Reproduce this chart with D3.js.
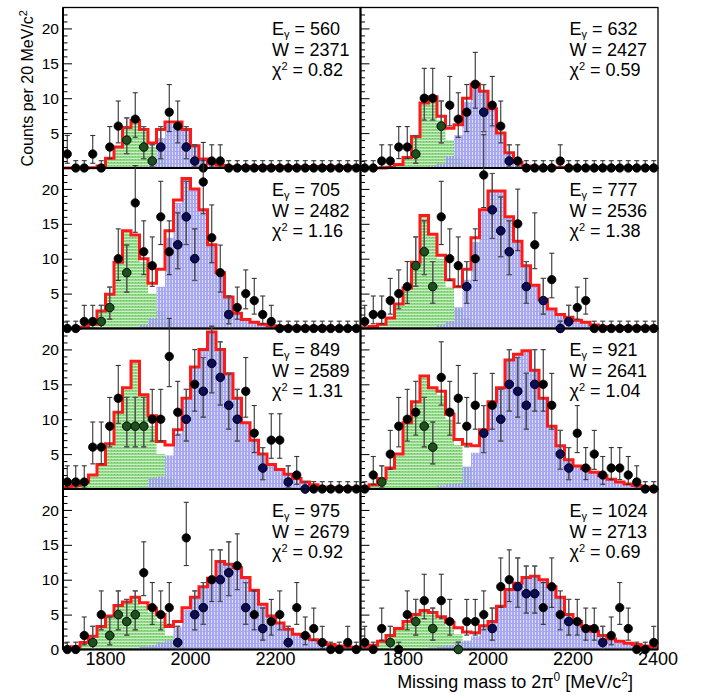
<!DOCTYPE html>
<html><head><meta charset="utf-8">
<script src="https://cdn.jsdelivr.net/npm/d3@7"></script>
<style>body{margin:0;background:#fff}svg{display:block}text{font-family:"Liberation Sans",Arial,Helvetica,sans-serif}</style>
</head><body><svg id="c" width="702" height="695"></svg>
<script>
// ---------- data ----------
const massCenters = [1710,1730,1750,1770,1790,1810,1830,1850,1870,1890,1910,1930,1950,1970,1990,2010,2030,2050,2070,2090,2110,2130,2150,2170,2190,2210,2230,2250,2270,2290,2310,2330,2350,2370,2390];
const eGamma = [560,632,705,777,849,921,975,1024];
const wValues = [2371,2427,2482,2536,2589,2641,2679,2713];
const chi2Values = ["0.82","0.59","1.16","1.38","1.31","1.04","0.92","0.69"];
const yTickLabels = [5,10,15,20];
const xTickLabels = [1800,2000,2200,2400];

const data1 = [2,0,0,2,0,3,6,4,7,3,1,3,8,6,3,1,0,1,1,0,0,0,0,0,0,0,0,0,0,0,0,0,0,0,0];
const green1 = [0,0,0,0.05,0.3,1.4,3.0,5.8,6.8,5.3,3.0,1.2,0.3,0.1,0,0,0,0,0,0,0,0,0,0,0,0,0,0,0,0,0,0,0,0,0];
const blue1 = [0,0,0,0,0,0,0,0,0,0.2,0.6,4.3,6.3,6.5,5.5,3.2,1.3,0.6,0.4,0.2,0.2,0.2,0.2,0.2,0.2,0.2,0.2,0.2,0.2,0.2,0.2,0.2,0.2,0.2,0.2];
const gPts1 = [[1850,4],[1890,3],[1910,1]];
const bPts1 = [[1930,3],[1990,3],[2010,1]];

const data2 = [0,0,1,1,3,3,2,10,10,6,9,7,8,12,8,9,6,1,1,0,0,0,0,1,0,0,0,0,0,0,0,0,0,0,0];
const green2 = [0,0,0,0.1,0.5,1.5,4.5,9.3,9.9,6.8,4.0,1.5,0.5,0.2,0,0,0,0,0,0,0,0,0,0,0,0,0,0,0,0,0,0,0,0,0];
const blue2 = [0,0,0,0,0,0,0,0,0.3,0.6,1.7,4.7,9.5,11.8,11.0,8.5,5.0,2.2,0.8,0.3,0.1,0.1,0.1,0.1,0.1,0.1,0.1,0.1,0.1,0.1,0.1,0.1,0.1,0.1,0.1];
const gPts2 = [[1830,2],[1890,6]];
const bPts2 = [[1990,8],[2050,1]];

const data3 = [0,0,1,1,1,3,10,8,18,11,9,16,11,12,16,10,21,13,8,2,3,5,4,2,1,0,0,0,0,0,0,0,0,0,0];
const green3 = [0,0,0.2,0.6,2.5,4.9,9.5,14.0,13.2,9.5,5.0,2.5,1.0,0.4,0.1,0,0,0,0,0,0,0,0,0,0,0,0,0,0,0,0,0,0,0,0];
const blue3 = [0,0,0,0,0,0,0,0,0.2,0.5,1.5,6.0,13,18,21.4,20,17,12,8,4.5,2.2,1.3,0.9,0.6,0.4,0.3,0.2,0.2,0.2,0.2,0.2,0.1,0.1,0.1,0.1];
const gPts3 = [[1790,1],[1810,3],[1850,8]];
const bPts3 = [[1970,12],[1990,16],[2010,10],[2090,2]];

const data4 = [1,2,2,4,5,6,9,11,6,16,10,9,6,10,22,17,14,11,15,6,12,4,7,0,1,3,4,0,0,0,0,0,0,0,0];
const green4 = [0.1,0.3,0.6,1.5,3.5,5.8,9.5,16.2,13.3,10,6,3,1.5,0.6,0.2,0,0,0,0,0,0,0,0,0,0,0,0,0,0,0,0,0,0,0,0];
const blue4 = [0,0,0,0,0,0,0,0,0.2,0.5,1,3,7,12.4,16.8,19.7,19.7,16,12.5,9,6.2,4.2,2.8,2.0,1.6,1.2,0.9,0.5,0.3,0.2,0.2,0.2,0.2,0.2,0.2];
const gPts4 = [[1830,9],[1850,11],[1870,6]];
const bPts4 = [[1950,6],[2010,17],[2030,14],[2050,11],[2090,6],[2130,4],[2170,0],[2190,1]];

const data5 = [1,1,1,6,6,9,13,9,9,9,10,10,19,11,10,15,14,18,16,12,10,14,8,3,7,7,1,2,0,0,0,0,0,0,0];
const green5 = [0.2,0.5,1.0,2.0,3.5,6.5,11,14.5,18.3,13.3,9.0,5.0,1.5,0.5,0.2,0.1,0,0,0,0,0,0,0,0,0,0,0,0,0,0,0,0,0,0,0];
const blue5 = [0,0,0,0,0,0,0,0,0,0.2,1.5,1.8,4.8,8,12.8,17.4,20,22.5,20,16.5,13,9.5,7,5,3.5,2.8,2.1,1.5,1.0,0.6,0.3,0.2,0.2,0.2,0.2];
const gPts5 = [[1850,9],[1870,9],[1890,9]];
const bPts5 = [[1990,10],[2030,14],[2050,18],[2070,16],[2090,12],[2110,10],[2170,3],[2230,1],[2270,0]];

const data6 = [0,2,1,5,9,10,11,9,6,16,11,13,9,12,8,12,10,15,14,12,15,15,12,5,3,8,3,5,2,3,3,2,1,0,0];
const green6 = [0.3,0.6,1.5,3.0,5.0,9.5,12.5,16.2,14.4,13.5,10,6.3,3.2,1.0,0.4,0.2,0,0,0,0,0,0,0,0,0,0,0,0,0,0,0,0,0,0,0];
const blue6 = [0,0,0,0,0,0,0,0,0.1,0.5,0.7,0.8,3.2,5.2,8.1,12.3,14.5,18.5,19.3,19.8,17,13,9,6.2,4.2,3.3,2.9,2.4,1.9,1.4,1.0,0.7,0.5,0.3,0.2];
const gPts6 = [[1750,1],[1850,9],[1870,6]];
const bPts6 = [[1990,8],[2030,10],[2050,15],[2070,14],[2090,12],[2110,15],[2170,5],[2190,3]];

const data7 = [0,0,2,1,5,2,5,4,5,11,6,5,6,1,16,5,6,10,10,11,12,6,5,3,4,5,1,6,2,3,1,0,0,1,0];
const green7 = [0.1,0.4,1.0,1.9,3.3,4.8,6.3,6.8,7.3,6.3,5.3,4.0,2.0,0.8,0.3,0.1,0,0,0,0,0,0,0,0,0,0,0,0,0,0,0,0,0,0,0];
const blue7 = [0,0,0,0,0,0,0,0,0.2,0.4,0.6,1.0,1.3,3.2,5.7,7.4,9.0,10.2,12.6,12.2,11.7,10.3,8.5,6.5,4.8,3.8,2.9,2.2,1.9,1.4,1.0,0.7,0.5,0.35,0.25];
const gPts7 = [[1770,1],[1810,2],[1830,5],[1850,4],[1870,5]];
const bPts7 = [[1970,1],[2010,5],[2030,6],[2070,10],[2090,11],[2130,6],[2170,3],[2230,1]];

const data8 = [1,0,3,1,0,5,4,7,3,7,4,0,4,4,5,3,9,10,9,8,8,6,9,5,4,4,3,3,1,2,6,3,0,0,1];
const green8 = [0.2,0.6,1.2,2.0,3.0,4.0,5.0,5.5,5.0,4.3,3.3,2.2,1.2,0.5,0.2,0,0,0,0,0,0,0,0,0,0,0,0,0,0,0,0,0,0,0,0];
const blue8 = [0,0,0,0,0,0,0,0.1,0.3,0.4,0.6,0.9,1.3,1.9,3.2,4.0,6.2,8.6,9.5,10.3,10.5,10.0,9.0,7.5,5.0,4.0,3.3,2.6,2.0,1.5,1.2,0.9,0.7,0.5,0.3];
const gPts8 = [[1770,1],[1830,4],[1870,3],[1930,0]];
const bPts8 = [[2010,3],[2070,9],[2090,8],[2110,8],[2190,4],[2270,1]];

const panels = [
  {data:data1, green:green1, blue:blue1, gPts:gPts1, bPts:bPts1},
  {data:data2, green:green2, blue:blue2, gPts:gPts2, bPts:bPts2},
  {data:data3, green:green3, blue:blue3, gPts:gPts3, bPts:bPts3},
  {data:data4, green:green4, blue:blue4, gPts:gPts4, bPts:bPts4},
  {data:data5, green:green5, blue:blue5, gPts:gPts5, bPts:bPts5},
  {data:data6, green:green6, blue:blue6, gPts:gPts6, bPts:bPts6},
  {data:data7, green:green7, blue:blue7, gPts:gPts7, bPts:bPts7},
  {data:data8, green:green8, blue:blue8, gPts:gPts8, bPts:bPts8}
];

// ---------- layout ----------
const colX = [63, 360.5], panelW = 297.5;
const rowTop = [7.5, 168, 328.5, 489], panelH = 160.5;
const BIN = 20;

const svg = d3.select("#c");
const defs = svg.append("defs");
const pg = defs.append("pattern").attr("id","pg").attr("width",3).attr("height",3).attr("patternUnits","userSpaceOnUse");
pg.append("rect").attr("width",3).attr("height",3).attr("fill","#8fd886");
pg.append("rect").attr("y",2).attr("width",3).attr("height",1).attr("fill","#ffffff").attr("opacity",0.55);
pg.append("rect").attr("width",1).attr("height",1).attr("fill","#6cc462");
const pb = defs.append("pattern").attr("id","pb").attr("width",3).attr("height",4).attr("patternUnits","userSpaceOnUse");
pb.append("rect").attr("width",3).attr("height",4).attr("fill","#9898ee");
pb.append("rect").attr("x",1).attr("width",1).attr("height",3).attr("fill","#ffffff").attr("opacity",0.6);

function errUp(n){ return n===0 ? 1.05 : Math.sqrt(n+0.75)+1; }
function errLo(n){ return n===0 ? 0 : Math.sqrt(n-0.25); }

function stepPts(vals){
  const pts = vals.map((v,i)=>[massCenters[i]-BIN/2, v]);
  pts.push([massCenters[massCenters.length-1]+BIN/2, vals[vals.length-1]]);
  return pts;
}

function drawPoints(g, x, y, pts, fill, stroke, barColor, r){
  const grp = g.append("g");
  pts.forEach(([m,n])=>{
    const cx = x(m), y1 = y(n+errUp(n)), y0 = y(n-errLo(n));
    grp.append("line").attr("x1",cx).attr("x2",cx).attr("y1",y0).attr("y2",y1)
      .attr("stroke",barColor).attr("stroke-width",1.1);
    grp.append("line").attr("x1",cx-2.5).attr("x2",cx+2.5).attr("y1",y1).attr("y2",y1)
      .attr("stroke",barColor).attr("stroke-width",1.1);
    if (n>0) grp.append("line").attr("x1",cx-2.5).attr("x2",cx+2.5).attr("y1",y0).attr("y2",y0)
      .attr("stroke",barColor).attr("stroke-width",1.1);
  });
  grp.selectAll("circle.m").data(pts).join("circle").attr("class","m")
    .attr("cx",d=>x(d[0])).attr("cy",d=>y(d[1])).attr("r",r)
    .attr("fill",fill).attr("stroke",stroke).attr("stroke-width",0.8);
}

panels.forEach((p,k)=>{
  const r = Math.floor(k/2), c = k%2;
  const x = d3.scaleLinear().domain([1700,2400]).range([colX[c], colX[c]+panelW]);
  const y = d3.scaleLinear().domain([0,23]).range([rowTop[r]+panelH, rowTop[r]]);
  const g = svg.append("g");

  const area = d3.area().x(d=>x(d[0])).y0(y(0)).y1(d=>y(d[1])).curve(d3.curveStepAfter);
  g.append("path").attr("d", area(stepPts(p.green))).attr("fill","url(#pg)");
  g.append("path").attr("d", area(stepPts(p.blue))).attr("fill","url(#pb)").attr("opacity",0.85);

  const total = p.green.map((v,i)=>v+p.blue[i]);
  const line = d3.line().x(d=>x(d[0])).y(d=>y(d[1])).curve(d3.curveStepAfter);
  g.append("path").attr("d", line(stepPts(total))).attr("fill","none")
    .attr("stroke","#ff1a1a").attr("stroke-width",3).attr("stroke-linejoin","miter");

  // frame
  const x0 = colX[c], x1 = colX[c]+panelW, yT = rowTop[r], yB = rowTop[r]+panelH;
  g.append("rect").attr("x",x0).attr("y",yT).attr("width",panelW).attr("height",panelH)
    .attr("fill","none").attr("stroke","#000").attr("stroke-width",1.3);
  g.append("line").attr("x1",x0).attr("x2",x0).attr("y1",yT).attr("y2",yB).attr("stroke","#000").attr("stroke-width",2);
  g.append("line").attr("x1",x0).attr("x2",x1).attr("y1",yB).attr("y2",yB).attr("stroke","#000").attr("stroke-width",2);

  // y ticks (inside)
  const yAxis = d3.axisRight(y).tickValues(d3.range(1,23)).tickSize(4.5).tickFormat("");
  const ya = g.append("g").attr("transform",`translate(${x0},0)`).call(yAxis);
  ya.select(".domain").remove();
  ya.selectAll(".tick line").attr("stroke","#000").attr("stroke-width",1)
    .attr("x2", d => d%5===0 ? 9 : 4.5);

  if (c===0){
    const labs = r===3 ? [0].concat(yTickLabels) : yTickLabels;
    g.selectAll("text.yl").data(labs).join("text").attr("class","yl")
      .attr("x",x0-4).attr("y",d=>y(d)).attr("dy","0.36em")
      .attr("text-anchor","end").attr("font-size",15.5).text(d=>d);
  }
  if (r===3){
    const xl = c===0 ? xTickLabels.filter(v=>v<2400) : xTickLabels;
    g.selectAll("text.xl").data(xl).join("text").attr("class","xl")
      .attr("x",d=>x(d)).attr("y",665).attr("text-anchor","middle")
      .attr("font-size",18).text(d=>d);
  }

  // data points
  const dpts = p.data.map((v,i)=>[massCenters[i], v]);
  drawPoints(g, x, y, dpts, "#000", "#000", "#333", 4.2);
  drawPoints(g, x, y, p.gPts, "#1f4f1f", "#061a06", "#555", 4.2);
  drawPoints(g, x, y, p.bPts, "#0d0d52", "#000028", "#555", 4.2);

  // labels
  const tx = x0 + 209;
  const t1 = g.append("text").attr("x",tx).attr("y",yT+27.5).attr("font-size",18);
  t1.append("tspan").text("E");
  t1.append("tspan").attr("font-size",11).attr("dy",3).text("γ");
  t1.append("tspan").attr("dy",-3).text(" = " + eGamma[k]);
  g.append("text").attr("x",tx).attr("y",yT+48.5).attr("font-size",18).text("W = " + wValues[k]);
  const t3 = g.append("text").attr("x",tx).attr("y",yT+68.5).attr("font-size",18);
  t3.append("tspan").text("χ");
  t3.append("tspan").attr("font-size",11).attr("dy",-6).text("2");
  t3.append("tspan").attr("dy",6).text(" = " + chi2Values[k]);
});

// axis titles
const xt = svg.append("text").attr("x",633).attr("y",688).attr("text-anchor","end").attr("font-size",18);
xt.append("tspan").text("Missing mass to 2π");
xt.append("tspan").attr("font-size",12).attr("dy",-7).text("0");
xt.append("tspan").attr("dy",7).text(" [MeV/c");
xt.append("tspan").attr("font-size",12).attr("dy",-7).text("2");
xt.append("tspan").attr("dy",7).text("]");

const yt = svg.append("text").attr("transform","translate(33,10) rotate(-90)")
  .attr("text-anchor","end").attr("font-size",16);
yt.append("tspan").text("Counts per 20 MeV/c");
yt.append("tspan").attr("font-size",11).attr("dy",-6).text("2");
</script>
</body></html>
